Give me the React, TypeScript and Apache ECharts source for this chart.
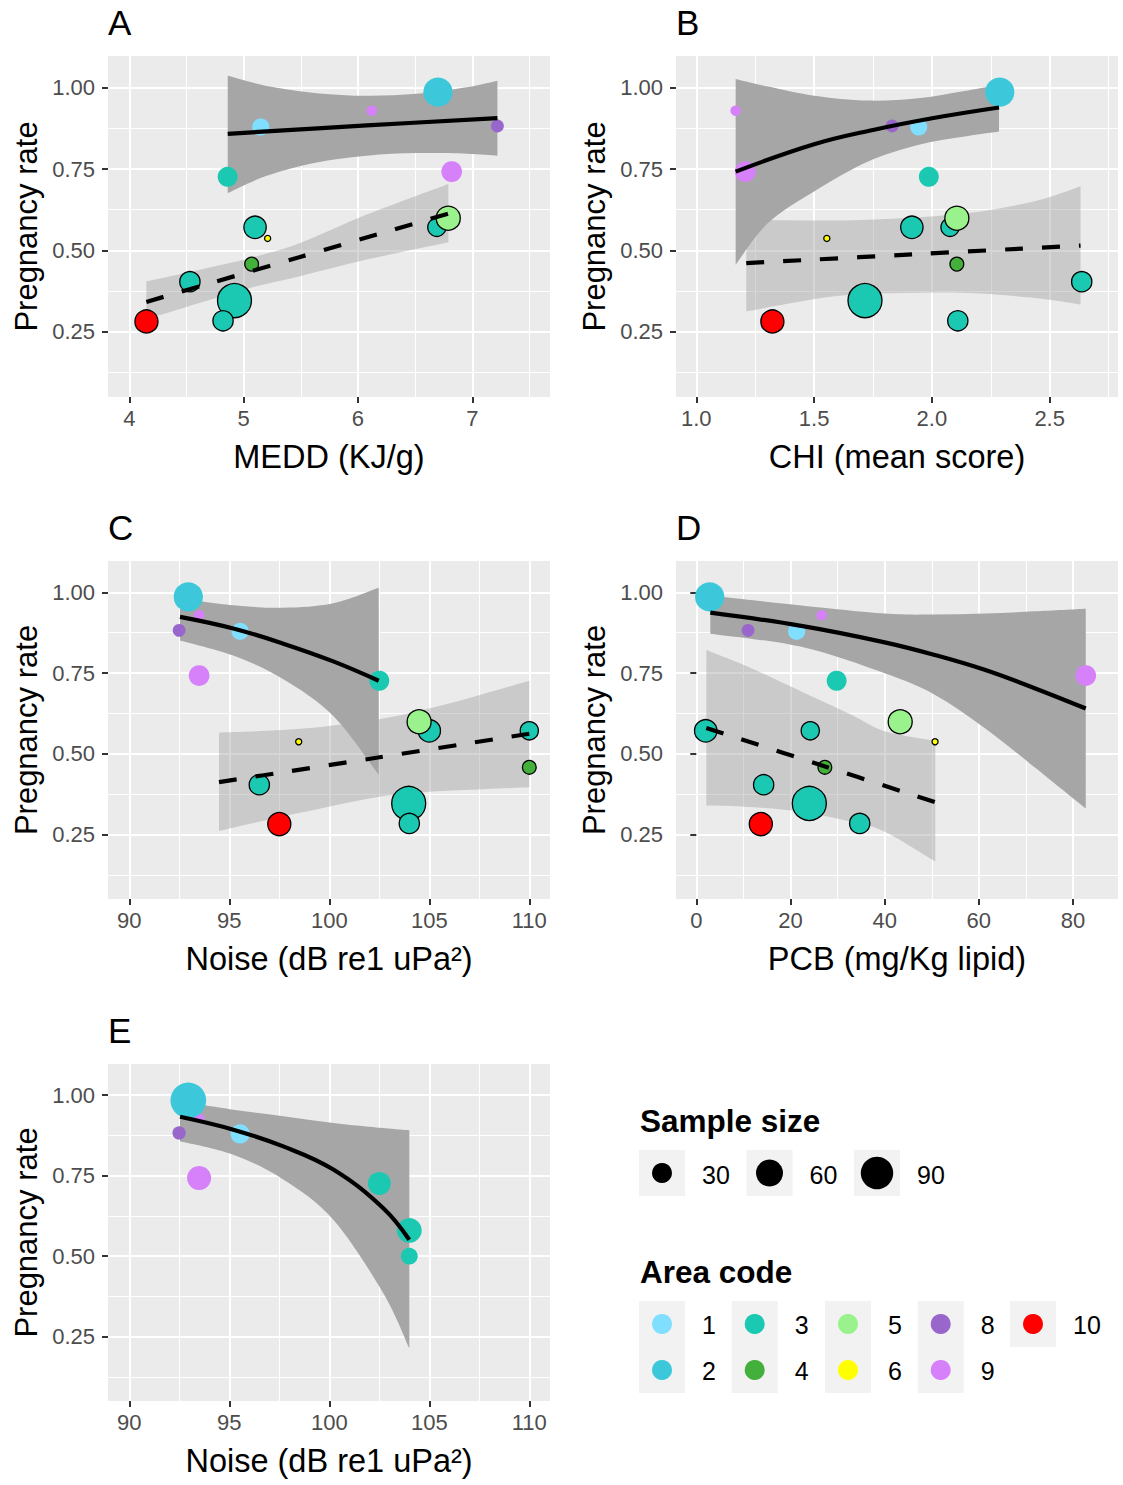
import React, { useEffect, useRef } from 'react';
import * as echarts from 'echarts';

const FONT = '"Liberation Sans", Arial, Helvetica, sans-serif';

// ---------- legend / colour data ----------
const areaCodes = [1, 2, 3, 4, 5, 6, 8, 9, 10];
const areaColors = ['#80DEFF', '#3CC8DA', '#1BC8B2', '#44B03C', '#9AF28C', '#FFFF00', '#9966CC', '#D680FA', '#FF0000'];
const legendSampleSizes = [30, 60, 90];

// ---------- observations used in panels A–D ----------
const areaCode = [9, 2, 1, 8, 9, 3, 3, 6, 3, 5, 4, 3, 3, 3, 10];
const pregnancyRate = [0.929, 0.986, 0.879, 0.882, 0.742, 0.726, 0.571, 0.537, 0.571, 0.599, 0.458, 0.404, 0.346, 0.284, 0.282];
const sampleSize = [6, 72, 21, 10, 33, 30, 39, 1, 24, 46, 12, 31, 100, 31, 42];
const lowGroup = [false, false, false, false, false, false, true, true, true, true, true, true, true, true, true];
const medd = [6.12, 6.7, 5.15, 7.22, 6.82, 4.86, 5.1, 5.21, 6.69, 6.79, 5.07, 4.53, 4.92, 4.82, 4.15];
const chi = [1.167, 2.288, 1.944, 1.831, 1.208, 1.987, 1.915, 1.554, 2.077, 2.106, 2.106, 2.636, 1.716, 2.11, 1.323];
const noise = [93.49, 92.95, 95.54, 92.49, 93.49, 102.5, 105.0, 98.47, 110.0, 104.49, 110.0, 96.5, 103.97, 104.0, 97.5];
const pcb = [26.6, 2.84, 21.3, 11.0, 82.7, 29.8, 2.0, 50.7, 24.2, 43.3, 27.3, 14.3, 24.0, 34.7, 13.7];

// ---------- observations in panel E ----------
const noiseE = [93.49, 92.95, 95.54, 92.49, 93.49, 102.5, 104.0, 104.0];
const rateE = [0.928, 0.984, 0.88, 0.883, 0.743, 0.726, 0.58, 0.5];
const areaE = [9, 2, 1, 8, 9, 3, 3, 3];
const sampleSizeE = [6, 72, 21, 10, 33, 30, 35, 16];

// ---------- tick labels ----------
const rateTicks = [0.25, 0.5, 0.75, 1.0];
const meddTicks = [4, 5, 6, 7];
const chiTicks = [1.0, 1.5, 2.0, 2.5];
const noiseTicks = [90, 95, 100, 105, 110];
const pcbTicks = [0, 20, 40, 60, 80];

// ---------- fitted curves & confidence bands ----------
const aHighX = [4.861, 6.077, 7.22];
const aHighFit = [0.858, 0.884, 0.906];
const aHighBandX = [4.861, 5.202, 5.639, 6.077, 6.514, 6.952, 7.22];
const aHighLo = [0.676, 0.729, 0.77, 0.791, 0.799, 0.797, 0.791];
const aHighHi = [1.036, 1.005, 0.983, 0.975, 0.981, 1.001, 1.021];
const aLowX = [4.149, 5.494, 6.791];
const aLowFit = [0.342, 0.48, 0.613];
const aLowBandX = [4.149, 4.619, 5.056, 5.494, 6.077, 6.791];
const aLowLo = [0.288, 0.339, 0.385, 0.421, 0.472, 0.525];
const aLowHi = [0.405, 0.441, 0.477, 0.523, 0.61, 0.704];

const bHighX = [1.167, 1.5, 1.75, 2.001, 2.285];
const bHighFit = [0.742, 0.826, 0.87, 0.906, 0.939];
const bHighBandX = [1.167, 1.304, 1.5, 1.729, 1.941, 2.125, 2.285];
const bHighLo = [0.456, 0.584, 0.681, 0.773, 0.824, 0.848, 0.865];
const bHighHi = [1.026, 1.003, 0.975, 0.96, 0.967, 0.988, 1.008];
const bLowX = [1.212, 1.92, 2.631];
const bLowFit = [0.461, 0.488, 0.515];
const bLowBandX = [1.212, 1.588, 1.871, 2.154, 2.437, 2.631];
const bLowLo = [0.313, 0.359, 0.369, 0.369, 0.354, 0.334];
const bLowHi = [0.594, 0.592, 0.599, 0.615, 0.651, 0.697];

const cHighX = [92.535, 95.2, 97.7, 100.2, 102.47];
const cHighFit = [0.924, 0.888, 0.841, 0.786, 0.726];
const cHighBandX = [92.535, 95.2, 97.7, 100.2, 102.47];
const cHighLo = [0.851, 0.804, 0.731, 0.617, 0.435];
const cHighHi = [0.981, 0.96, 0.952, 0.966, 1.014];
const cLowX = [94.485, 102.2, 110.0];
const cLowFit = [0.412, 0.486, 0.562];
const cLowBandX = [94.485, 98.535, 102.5, 105.2, 107.7, 110.0];
const cLowLo = [0.261, 0.317, 0.367, 0.383, 0.39, 0.396];
const cLowHi = [0.565, 0.577, 0.607, 0.643, 0.685, 0.726];

const dHighX = [2.98, 22.3, 40.0, 50.61, 61.23, 71.84, 82.7];
const dHighFit = [0.937, 0.896, 0.845, 0.806, 0.76, 0.703, 0.64];
const dHighBandX = [2.98, 22.3, 40.0, 50.61, 61.23, 71.84, 82.7];
const dHighLo = [0.872, 0.831, 0.749, 0.683, 0.58, 0.458, 0.33];
const dHighHi = [0.99, 0.959, 0.934, 0.931, 0.934, 0.941, 0.949];
const dLowX = [2.13, 26.4, 50.75];
const dLowFit = [0.58, 0.465, 0.35];
const dLowBandX = [2.13, 11.68, 22.3, 32.92, 40.0, 50.75];
const dLowLo = [0.34, 0.335, 0.32, 0.289, 0.258, 0.166];
const dLowHi = [0.821, 0.765, 0.693, 0.621, 0.57, 0.54];

const eX = [92.535, 95.2, 97.7, 100.2, 102.7, 104.0];
const eFit = [0.933, 0.893, 0.841, 0.769, 0.649, 0.551];
const eBandX = [92.535, 95.2, 97.7, 100.2, 102.7, 104.0];
const eLo = [0.857, 0.815, 0.738, 0.613, 0.385, 0.214];
const eHi = [0.981, 0.955, 0.935, 0.914, 0.898, 0.891];

// ---------- helpers ----------
const colorOf = (code: number) => areaColors[areaCodes.indexOf(code)];
const sizeAD = (n: number) => 3 + 3.1 * Math.sqrt(n);
const sizeEp = (n: number) => 4.2 * Math.sqrt(n);

const DARK_BAND = '#A6A6A6';
const LIGHT_BAND = 'rgba(153,153,153,0.4)';

function bez(p: number[][]) {
  let s = '';
  for (let i = 0; i < p.length - 1; i++) {
    const p0 = p[i > 0 ? i - 1 : i];
    const p1 = p[i];
    const p2 = p[i + 1];
    const p3 = p[i + 2 < p.length ? i + 2 : i + 1];
    const c1x = p1[0] + (p2[0] - p0[0]) / 6;
    const c1y = p1[1] + (p2[1] - p0[1]) / 6;
    const c2x = p2[0] - (p3[0] - p1[0]) / 6;
    const c2y = p2[1] - (p3[1] - p1[1]) / 6;
    s += ` C${c1x},${c1y} ${c2x},${c2y} ${p2[0]},${p2[1]}`;
  }
  return s;
}

function bandSeries(idx: number, xs: number[], lo: number[], hi: number[], fill: string, z: number) {
  const data = xs.map((x, i) => [x, lo[i], hi[i]]);
  return {
    type: 'custom',
    xAxisIndex: idx,
    yAxisIndex: idx,
    z,
    silent: true,
    data,
    encode: { x: 0, y: [1, 2] },
    renderItem: (params: any, api: any) => {
      if (params.dataIndex !== 0) return null;
      const up = data.map((d) => api.coord([d[0], d[2]]));
      const dn = data.map((d) => api.coord([d[0], d[1]])).reverse();
      const pathData = `M${up[0][0]},${up[0][1]}` + bez(up) + ` L${dn[0][0]},${dn[0][1]}` + bez(dn) + ' Z';
      return { type: 'path', shape: { pathData }, style: { fill } };
    },
  };
}

function lineSeries(idx: number, xs: number[], ys: number[], dashed: boolean) {
  return {
    type: 'line',
    xAxisIndex: idx,
    yAxisIndex: idx,
    z: 5,
    silent: true,
    smooth: 0.4,
    showSymbol: false,
    symbol: 'none',
    data: xs.map((x, i) => [x, ys[i]]),
    lineStyle: { color: '#000', width: 4.2, type: dashed ? [18, 19] : 'solid', cap: 'butt' },
  };
}

function scatterSeries(idx: number, xs: number[], ys: number[], codes: number[], ns: number[], outl: boolean[], sizeFn: (n: number) => number) {
  return {
    type: 'scatter',
    xAxisIndex: idx,
    yAxisIndex: idx,
    z: 4,
    silent: true,
    symbol: 'circle',
    symbolSize: (v: number[]) => sizeFn(v[2]),
    data: xs.map((x, i) => ({
      value: [x, ys[i], ns[i]],
      itemStyle: {
        color: colorOf(codes[i]),
        borderColor: '#000',
        borderWidth: outl[i] ? 1.3 : 0,
        opacity: 1,
      },
    })),
  };
}

const panels = [
  { tag: 'A', left: 108, top: 56, width: 442, height: 341, xMin: 3.8136, xMax: 7.68, step: 1, ticks: meddTicks, dec: 0, name: 'MEDD (KJ/g)' },
  { tag: 'B', left: 676, top: 56, width: 442, height: 341, xMin: 0.9138, xMax: 2.79, step: 0.5, ticks: chiTicks, dec: 1, name: 'CHI (mean score)' },
  { tag: 'C', left: 108, top: 561, width: 442, height: 338, xMin: 88.935, xMax: 111.035, step: 5, ticks: noiseTicks, dec: 0, name: 'Noise (dB re1 uPa²)' },
  { tag: 'D', left: 676, top: 561, width: 442, height: 338, xMin: -4.31, xMax: 89.55, step: 20, ticks: pcbTicks, dec: 0, name: 'PCB (mg/Kg lipid)' },
  { tag: 'E', left: 108, top: 1064, width: 442, height: 337, xMin: 88.935, xMax: 111.035, step: 5, ticks: noiseTicks, dec: 0, name: 'Noise (dB re1 uPa²)' },
];

function buildOption() {
  const grid = panels.map((p) => ({
    left: p.left,
    top: p.top,
    width: p.width,
    height: p.height,
    show: true,
    backgroundColor: '#EBEBEB',
    borderWidth: 0,
    containLabel: false,
    outerBoundsMode: 'none',
  }));

  const xAxis = panels.map((p, i) => ({
    type: 'value',
    gridIndex: i,
    min: p.xMin,
    max: p.xMax,
    minInterval: p.step,
    maxInterval: p.step,
    name: p.name,
    nameLocation: 'middle',
    nameGap: 43,
    nameMoveOverlap: false,
    nameTextStyle: { fontSize: 32.5, color: '#000', fontFamily: FONT },
    axisLine: { show: false },
    axisTick: { show: true, length: 6, lineStyle: { color: '#333', width: 2 }, customValues: p.ticks },
    axisLabel: {
      customValues: p.ticks,
      formatter: (v: number) => v.toFixed(p.dec),
      fontSize: 22,
      color: '#4D4D4D',
      fontFamily: FONT,
      margin: 10,
    },
    splitLine: { show: true, lineStyle: { color: '#FFFFFF', width: 2 } },
    minorTick: { show: false, splitNumber: 2 },
    minorSplitLine: { show: true, lineStyle: { color: '#FFFFFF', width: 1 } },
  }));

  const yAxis = panels.map((p, i) => ({
    type: 'value',
    gridIndex: i,
    min: 0.05,
    max: 1.097,
    minInterval: 0.25,
    maxInterval: 0.25,
    name: 'Pregnancy rate',
    nameLocation: 'middle',
    nameGap: 66,
    nameRotate: 90,
    nameMoveOverlap: false,
    nameTextStyle: { fontSize: 31, color: '#000', fontFamily: FONT },
    axisLine: { show: false },
    axisTick: { show: true, length: 6, lineStyle: { color: '#333', width: 2 }, customValues: rateTicks },
    axisLabel: {
      customValues: rateTicks,
      formatter: (v: number) => v.toFixed(2),
      fontSize: 22,
      color: '#4D4D4D',
      fontFamily: FONT,
      margin: 13,
    },
    splitLine: { show: true, lineStyle: { color: '#FFFFFF', width: 2 } },
    minorTick: { show: false, splitNumber: 2 },
    minorSplitLine: { show: true, lineStyle: { color: '#FFFFFF', width: 1 } },
  }));

  const series: any[] = [];
  const xsList = [medd, chi, noise, pcb];
  xsList.forEach((xs, idx) => {
    series.push(scatterSeries(idx, xs, pregnancyRate, areaCode, sampleSize, lowGroup, sizeAD));
  });

  series.push(bandSeries(0, aLowBandX, aLowLo, aLowHi, LIGHT_BAND, 2));
  series.push(bandSeries(0, aHighBandX, aHighLo, aHighHi, DARK_BAND, 3));
  series.push(lineSeries(0, aLowX, aLowFit, true));
  series.push(lineSeries(0, aHighX, aHighFit, false));

  series.push(bandSeries(1, bLowBandX, bLowLo, bLowHi, LIGHT_BAND, 2));
  series.push(bandSeries(1, bHighBandX, bHighLo, bHighHi, DARK_BAND, 3));
  series.push(lineSeries(1, bLowX, bLowFit, true));
  series.push(lineSeries(1, bHighX, bHighFit, false));

  series.push(bandSeries(2, cLowBandX, cLowLo, cLowHi, LIGHT_BAND, 2));
  series.push(bandSeries(2, cHighBandX, cHighLo, cHighHi, DARK_BAND, 3));
  series.push(lineSeries(2, cLowX, cLowFit, true));
  series.push(lineSeries(2, cHighX, cHighFit, false));

  series.push(bandSeries(3, dLowBandX, dLowLo, dLowHi, LIGHT_BAND, 2));
  series.push(bandSeries(3, dHighBandX, dHighLo, dHighHi, DARK_BAND, 3));
  series.push(lineSeries(3, dLowX, dLowFit, true));
  series.push(lineSeries(3, dHighX, dHighFit, false));

  series.push(bandSeries(4, eBandX, eLo, eHi, DARK_BAND, 3));
  series.push(scatterSeries(4, noiseE, rateE, areaE, sampleSizeE, noiseE.map(() => false), sizeEp));
  series.push(lineSeries(4, eX, eFit, false));

  // ---------- graphic: panel tags + legends ----------
  const graphic: any[] = [];
  const txt = (text: string, x: number, y: number, size: number, bold = false, align = 'left') => ({
    type: 'text',
    x,
    y,
    silent: true,
    style: {
      text,
      fontSize: size,
      fontWeight: bold ? 'bold' : 'normal',
      fontFamily: FONT,
      fill: '#000',
      textAlign: align,
      textVerticalAlign: 'middle',
      align,
      verticalAlign: 'middle',
    },
  });
  panels.forEach((p) => graphic.push(txt(p.tag, p.left, p.top - 34, 35)));

  // Sample size legend
  graphic.push(txt('Sample size', 640, 1121, 31.5, true));
  const sizeKeyX = [639, 746.5, 854];
  legendSampleSizes.forEach((n, i) => {
    graphic.push({ type: 'rect', silent: true, shape: { x: sizeKeyX[i], y: 1150, width: 46, height: 46 }, style: { fill: '#F2F2F2' } });
    graphic.push({ type: 'circle', silent: true, shape: { cx: sizeKeyX[i] + 23, cy: 1173, r: sizeAD(n) / 2 }, style: { fill: '#000' } });
    graphic.push(txt(String(n), sizeKeyX[i] + 63, 1175, 25));
  });

  // Area code legend
  graphic.push(txt('Area code', 640, 1272, 31.5, true));
  const colX = [639, 731.7, 825, 917.7, 1010];
  areaCodes.forEach((code, i) => {
    const col = Math.floor(i / 2);
    const row = i % 2;
    const x0 = colX[col];
    const y0 = 1301 + row * 46;
    graphic.push({ type: 'rect', silent: true, shape: { x: x0, y: y0, width: 46, height: 46 }, style: { fill: '#F2F2F2' } });
    graphic.push({ type: 'circle', silent: true, shape: { cx: x0 + 23, cy: y0 + 23, r: 10 }, style: { fill: areaColors[i] } });
    graphic.push(txt(String(code), x0 + 63, y0 + 24, 25));
  });

  return {
    animation: false,
    backgroundColor: '#FFFFFF',
    textStyle: { fontFamily: FONT },
    grid,
    xAxis,
    yAxis,
    series,
    graphic,
  };
}

export default function App() {
  const ref = useRef<HTMLDivElement>(null);
  useEffect(() => {
    document.body.style.margin = '0';
    const chart = echarts.init(ref.current as HTMLDivElement, null, { renderer: 'svg' });
    chart.setOption(buildOption() as any);
    return () => {
      chart.dispose();
    };
  }, []);
  return <div ref={ref} style={{ width: 1123, height: 1485 }} />;
}
